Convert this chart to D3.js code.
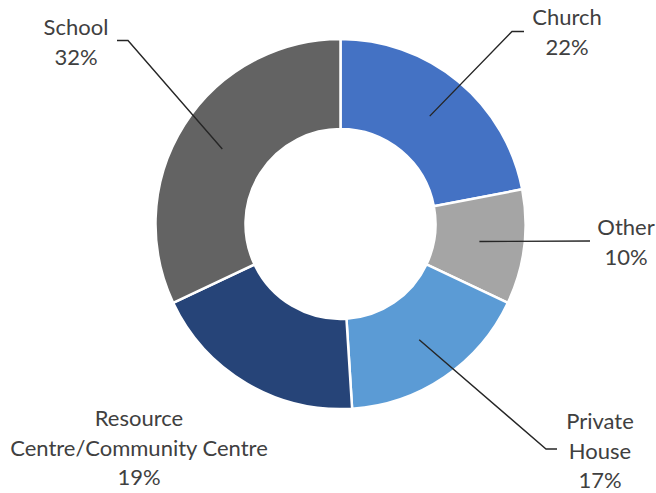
<!DOCTYPE html>
<html>
<head>
<meta charset="utf-8">
<script src="https://cdn.jsdelivr.net/npm/d3@7"></script>
<style>
  html, body { margin: 0; padding: 0; background: #ffffff; }
  svg { display: block; }
  text { font-family: Lato, "Noto Sans", sans-serif; }
</style>
</head>
<body>
<svg id="chart" width="656" height="493"></svg>
<script>
// Meeting venues, share of respondents (%)
const categories = ["Church", "Other", "Private House", "Resource Centre/Community Centre", "School"];
const values = [22, 10, 17, 19, 32];
const colors = ["#4472C4", "#A5A5A5", "#5B9BD5", "#264478", "#636363"];
// Label text lines for each slice (category name wrapped, then percentage)
const labelLines = [
  ["Church"],
  ["Other"],
  ["Private", "House"],
  ["Resource", "Centre/Community Centre"],
  ["School"]
];

// Label placement: text centre (x) and first baseline (y), plus leader elbow
const labelLayout = [
  { x: 567, y: 25, elbow: [[512, 31.5], [524, 31.5]] },
  { x: 626, y: 235, elbow: [[590, 241]] },
  { x: 600, y: 429, elbow: [[546, 449], [557, 449]] },
  { x: 139, y: 426, elbow: null },
  { x: 76, y: 35, elbow: [[128, 40.5], [117, 40.5]] }
];

const svg = d3.select("#chart");
const cx = 340.5, cy = 224, outerR = 185, innerR = 95;
const lineH = 29.5;

const pie = d3.pie().sort(null).value(d => d.value);
const arc = d3.arc().innerRadius(innerR).outerRadius(outerR);

const data = categories.map((c, i) => ({ name: c, value: values[i], color: colors[i], lines: labelLines[i], layout: labelLayout[i] }));
const arcs = pie(data);

const g = svg.append("g").attr("transform", `translate(${cx},${cy})`);

g.selectAll("path.slice")
  .data(arcs)
  .join("path")
  .attr("class", "slice")
  .attr("d", arc)
  .attr("fill", d => d.data.color)
  .attr("stroke", "#ffffff")
  .attr("stroke-width", 2.5)
  .attr("stroke-linejoin", "miter");

// Leader lines from slice centroid to label elbow
const line = d3.line();
arcs.forEach(a => {
  const lay = a.data.layout;
  if (!lay.elbow) return;
  const c = arc.centroid(a);
  const pts = [[cx + c[0], cy + c[1]], ...lay.elbow];
  svg.append("path")
    .attr("d", line(pts))
    .attr("fill", "none")
    .attr("stroke", "#262626")
    .attr("stroke-width", 1.4);
});

// Data labels: category name and rounded percentage
const total = d3.sum(values);
arcs.forEach(a => {
  const lay = a.data.layout;
  const lines = [...a.data.lines, d3.format(".0%")(a.data.value / total)];
  const t = svg.append("text")
    .attr("x", lay.x)
    .attr("y", lay.y)
    .attr("text-anchor", "middle")
    .attr("fill", "#404040")
    .attr("font-size", 22);
  lines.forEach((s, i) => {
    t.append("tspan").attr("x", lay.x).attr("y", lay.y + i * lineH).text(s);
  });
});
</script>
</body>
</html>
